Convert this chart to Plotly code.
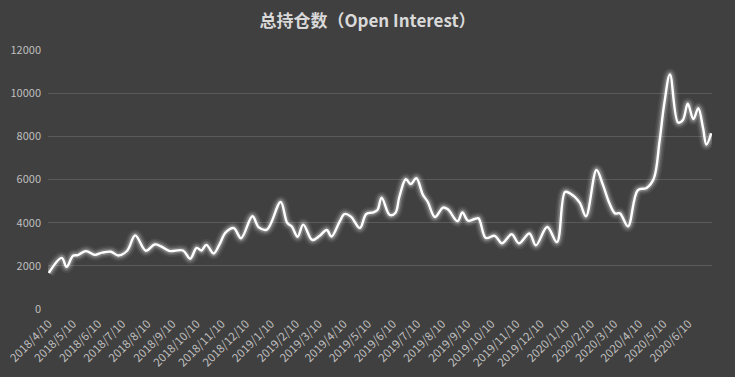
import plotly.graph_objects as go

dates = [
    "2018-04-10", "2018-04-26", "2018-05-02", "2018-05-10", "2018-05-16", "2018-05-26",
    "2018-06-06", "2018-06-15", "2018-06-26", "2018-07-05", "2018-07-16", "2018-07-26",
    "2018-08-08", "2018-08-19", "2018-08-27", "2018-09-06", "2018-09-23", "2018-10-02",
    "2018-10-10", "2018-10-16", "2018-10-22", "2018-10-31", "2018-11-07", "2018-11-15",
    "2018-11-25", "2018-12-04", "2018-12-18", "2018-12-26", "2019-01-05", "2019-01-22",
    "2019-01-30", "2019-02-05", "2019-02-12", "2019-02-19", "2019-03-02", "2019-03-11",
    "2019-03-20", "2019-03-26", "2019-04-05", "2019-04-11", "2019-04-19", "2019-04-30",
    "2019-05-08", "2019-05-17", "2019-05-22", "2019-05-27", "2019-06-06", "2019-06-13",
    "2019-06-18", "2019-06-26", "2019-07-02", "2019-07-09", "2019-07-17", "2019-07-23",
    "2019-08-01", "2019-08-11", "2019-08-17", "2019-08-29", "2019-09-04", "2019-09-11",
    "2019-09-19", "2019-09-24", "2019-10-03", "2019-10-14", "2019-10-23", "2019-11-04",
    "2019-11-13", "2019-11-26", "2019-12-04", "2019-12-18", "2019-12-30", "2020-01-09",
    "2020-01-15", "2020-01-27", "2020-02-04", "2020-02-17", "2020-02-25", "2020-03-04",
    "2020-03-11", "2020-03-17", "2020-03-27", "2020-04-08", "2020-04-19", "2020-04-28",
    "2020-05-05", "2020-05-11", "2020-05-18", "2020-05-28", "2020-06-03", "2020-06-09",
    "2020-06-16", "2020-06-22", "2020-06-28", "2020-07-02", "2020-07-08",
]
open_interest = [
    1670, 2370, 1950, 2470, 2500, 2680,
    2510, 2610, 2650, 2480, 2700, 3410,
    2700, 2990, 2900, 2690, 2710, 2330,
    2830, 2710, 2970, 2570, 2970, 3550,
    3750, 3280, 4300, 3780, 3680, 4960,
    4000, 3810, 3350, 3910, 3200, 3380,
    3660, 3360, 4050, 4400, 4280, 3750,
    4400, 4480, 4600, 5160, 4360, 4450,
    5200, 6010, 5790, 6060, 5300, 4970,
    4260, 4700, 4620, 4070, 4470, 4090,
    4170, 4200, 3290, 3390, 3040, 3460,
    3040, 3500, 2950, 3800, 3100, 5420,
    5360, 4940, 4300, 6440, 5750, 4900,
    4430, 4430, 3830, 5500, 5610, 6050,
    7750, 9530, 10870, 8640, 8760, 9510,
    8800, 9300, 8370, 7620, 8140,
]

tick_dates = [
    "2018-04-10", "2018-05-10", "2018-06-10", "2018-07-10", "2018-08-10", "2018-09-10",
    "2018-10-10", "2018-11-10", "2018-12-10", "2019-01-10", "2019-02-10", "2019-03-10",
    "2019-04-10", "2019-05-10", "2019-06-10", "2019-07-10", "2019-08-10", "2019-09-10",
    "2019-10-10", "2019-11-10", "2019-12-10", "2020-01-10", "2020-02-10", "2020-03-10",
    "2020-04-10", "2020-05-10", "2020-06-10",
]
tick_labels = [
    "2018/4/10", "2018/5/10", "2018/6/10", "2018/7/10", "2018/8/10", "2018/9/10",
    "2018/10/10", "2018/11/10", "2018/12/10", "2019/1/10", "2019/2/10", "2019/3/10",
    "2019/4/10", "2019/5/10", "2019/6/10", "2019/7/10", "2019/8/10", "2019/9/10",
    "2019/10/10", "2019/11/10", "2019/12/10", "2020/1/10", "2020/2/10", "2020/3/10",
    "2020/4/10", "2020/5/10", "2020/6/10",
]
y_ticks = [0, 2000, 4000, 6000, 8000, 10000, 12000]
y_labels = ["0", "2000", "4000", "6000", "8000", "10000", "12000"]

BG = "#404040"
FONT = "Noto Sans CJK SC, Noto Sans, sans-serif"

fig = go.Figure()
# glow layers
for w, a in [(12, 0.06), (8.5, 0.11), (5.5, 0.2)]:
    fig.add_trace(go.Scatter(
        x=dates, y=open_interest, mode="lines",
        line=dict(color=f"rgba(255,255,255,{a})", width=w, shape="spline", smoothing=1.0),
        hoverinfo="skip", showlegend=False,
    ))
fig.add_trace(go.Scatter(
    x=dates, y=open_interest, mode="lines",
    line=dict(color="#ffffff", width=2.4, shape="spline", smoothing=1.0),
    showlegend=False, name="总持仓数",
))

fig.update_layout(
    width=735, height=377,
    paper_bgcolor=BG, plot_bgcolor=BG,
    margin=dict(l=48, r=23, t=50, b=68),
    title=dict(
        text="<b>总持仓数（Open Interest）</b>",
        x=0.5, xanchor="center", y=0.945, yanchor="middle",
        font=dict(family=FONT, size=17, color="#d9d9d9"),
    ),
    font=dict(family=FONT, color="#bfbfbf", size=11),
    xaxis=dict(
        type="date", automargin=False,
        range=["2018-04-09", "2020-07-09"],
        tickmode="array", tickvals=tick_dates, ticktext=tick_labels,
        tickangle=-45, showgrid=False, zeroline=False, showline=False,
        ticks="", tickfont=dict(size=11.5, color="#bfbfbf"),
        ticklabelstandoff=5,
    ),
    yaxis=dict(
        range=[0, 12000], automargin=False,
        tickmode="array", tickvals=y_ticks, ticktext=y_labels,
        showgrid=True, gridcolor="#5a5a5a", gridwidth=1,
        zeroline=False, showline=False, ticks="",
        tickfont=dict(size=11, color="#bfbfbf"),
        ticklabelstandoff=6,
    ),
)

fig.write_html("out.html")
